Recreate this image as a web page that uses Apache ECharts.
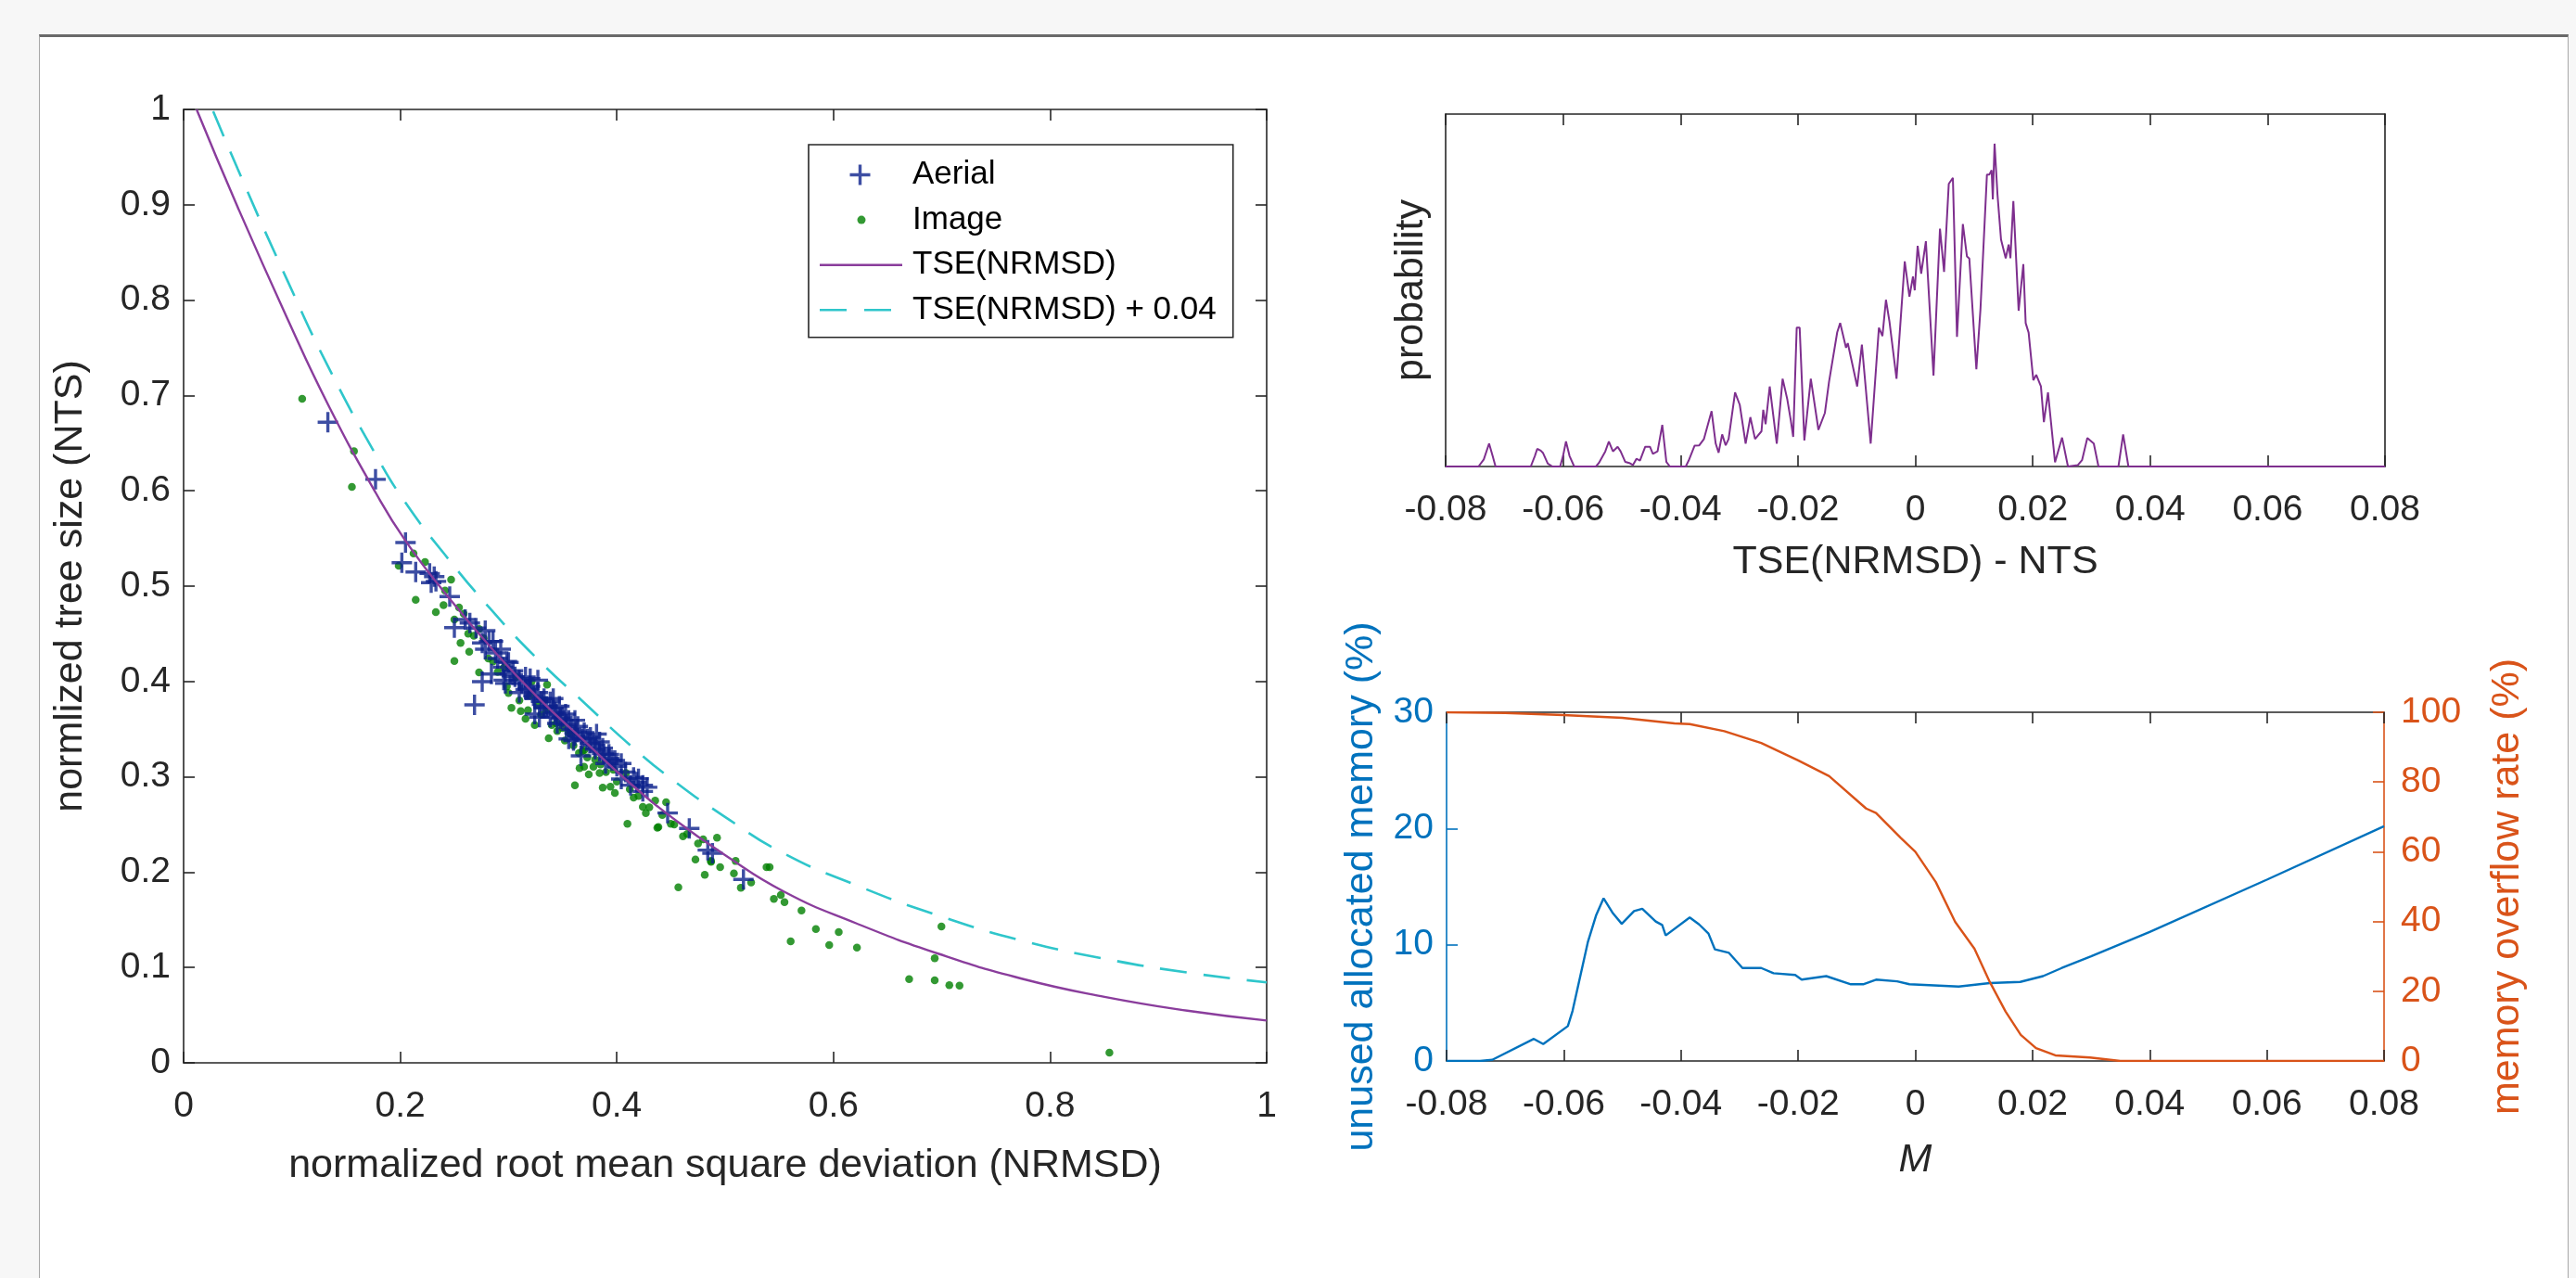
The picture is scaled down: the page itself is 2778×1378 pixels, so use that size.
<!DOCTYPE html>
<html><head><meta charset="utf-8">
<script src="https://cdn.jsdelivr.net/npm/echarts@6/dist/echarts.min.js"></script>
<style>
html,body{margin:0;padding:0;background:#f7f7f7;width:2778px;height:1378px;overflow:hidden;}
#panel{position:absolute;left:42px;top:37px;width:2726px;height:1400px;background:#fff;border-left:1px solid #a8a8a8;border-right:1px solid #a8a8a8;border-top:3px solid #6a6a6a;}
#chart{position:absolute;left:0;top:0;width:2778px;height:1378px;}
</style></head><body>
<div id="panel"></div><div id="chart"></div>
<script>
// ---------- Left panel: scatter of NTS vs NRMSD ----------
const aerialX = [0.1332,0.1772,0.2049,0.2015,0.2143,0.2272,0.2314,0.2286,0.233,0.2457,0.25,0.2643,0.2785,0.2757,0.2857,0.2928,0.2757,0.2686,0.2842,0.2956,0.2985,0.3042,0.3099,0.3157,0.3199,0.3271,0.3242,0.3328,0.3385,0.3413,0.3442,0.3499,0.3556,0.3385,0.364,0.3613,0.3556,0.3727,0.3784,0.3841,0.3927,0.3669,0.3982,0.3896,0.4041,0.4155,0.424,0.4127,0.4469,0.4669,0.484,0.4883,0.5169,0.3099,0.3271,0.3813,0.3841,0.4041,0.2785,0.29,0.3014,0.3157,0.3328,0.3413,0.347,0.3527,0.3613,0.3699,0.3756,0.387,0.3955,0.4184,0.424,0.3242,0.3285,
  0.26,0.27,0.282,0.288,0.295,0.30,0.306,0.312,0.318,0.323,0.33,0.335,0.343,0.348,0.353,0.358,0.363,0.368,0.375,0.38,0.388,0.393,0.40,0.408,0.42,0.428,0.32,0.345,0.36,0.297];
const aerialY = [0.672,0.612,0.5457,0.5246,0.5149,0.5133,0.51,0.5036,0.505,0.489,0.4565,0.4614,0.4533,0.4404,0.442,0.4339,0.3998,0.3755,0.4079,0.4014,0.4209,0.4112,0.4014,0.4047,0.3949,0.3884,0.3658,0.382,0.3787,0.3722,0.3658,0.3625,0.3593,0.3625,0.3528,0.3431,0.3398,0.3398,0.3333,0.3268,0.3236,0.322,0.3171,0.3139,0.2977,0.2993,0.2847,0.2912,0.262,0.2458,0.2231,0.2198,0.1923,0.3884,0.4014,0.3448,0.3366,0.3139,0.4339,0.4241,0.4079,0.3917,0.3722,0.382,0.374,0.3658,0.3593,0.3463,0.3414,0.33,0.3171,0.2944,0.2912,0.382,0.3625,
  0.465,0.456,0.442,0.43,0.415,0.42,0.405,0.398,0.392,0.385,0.379,0.374,0.368,0.361,0.355,0.35,0.347,0.34,0.335,0.329,0.324,0.319,0.311,0.305,0.298,0.289,0.403,0.356,0.338,0.398];
const imageX = [0.1095,0.1573,0.1554,0.1986,0.2123,0.2229,0.2143,0.2329,0.247,0.2414,0.2543,0.2586,0.25,0.2557,0.2637,0.2728,0.277,0.2728,0.2857,0.2985,0.3027,0.3113,0.3157,0.3242,0.3356,0.3328,0.3371,0.3399,0.3214,0.3499,0.3584,0.3656,0.3698,0.3613,0.3741,0.3841,0.387,0.3941,0.3982,0.4098,0.4084,0.4155,0.424,0.4268,0.4354,0.4384,0.4455,0.4498,0.4568,0.4611,0.4726,0.4797,0.4812,0.4869,0.4925,0.4954,0.5081,0.5097,0.524,0.5382,0.5411,0.4374,0.487,0.5145,0.545,0.5514,0.5548,0.5605,0.5705,0.5838,0.5961,0.6049,0.6217,0.6699,0.6935,0.6997,0.6935,0.707,0.7164,0.8548,0.2628,0.2813,0.2956,0.3071,0.3199,0.3271,0.3442,0.3556,0.3682,0.3727,0.3784,0.3968,
  0.268,0.29,0.30,0.31,0.318,0.33,0.345,0.352,0.36,0.365,0.38,0.39,0.40,0.412,0.42,0.43,0.442,0.453,0.465,0.475,0.24,0.25,0.335,0.37,0.385];
const imageY = [0.6964,0.6416,0.6041,0.5214,0.5344,0.5253,0.4857,0.4728,0.5068,0.4954,0.4776,0.4711,0.4215,0.4404,0.4312,0.455,0.4452,0.4095,0.4209,0.395,0.3723,0.369,0.3609,0.3544,0.3966,0.3804,0.3405,0.3544,0.3998,0.3512,0.3447,0.309,0.3106,0.2912,0.3025,0.3041,0.2886,0.2896,0.2831,0.2507,0.3041,0.2782,0.2685,0.262,0.275,0.2474,0.2733,0.2507,0.1841,0.2377,0.2133,0.2344,0.1972,0.2118,0.2361,0.2053,0.1988,0.2117,0.1891,0.2053,0.2053,0.2465,0.2108,0.1835,0.1719,0.1761,0.1686,0.1274,0.1598,0.1404,0.1235,0.1372,0.1209,0.0878,0.1096,0.143,0.0866,0.0814,0.081,0.0107,0.4501,0.4241,0.4144,0.4047,0.3852,0.3755,0.356,0.3463,0.3268,0.3203,0.3106,0.3074,
  0.448,0.41,0.388,0.38,0.37,0.365,0.348,0.338,0.333,0.325,0.318,0.305,0.295,0.287,0.28,0.268,0.26,0.25,0.24,0.23,0.48,0.465,0.37,0.328,0.313];
const tseX = [0.012,0.05,0.0955,0.1337,0.1776,0.2049,0.2414,0.2842,0.3271,0.3699,0.4127,0.4555,0.4983,0.5537,0.6209,0.6973,0.7738,0.8503,0.9267,1.0];
const tseY = [1.0,0.8974,0.7814,0.6897,0.5975,0.5475,0.4928,0.435,0.3831,0.3377,0.2928,0.2534,0.2192,0.18,0.1464,0.1143,0.0883,0.0692,0.0547,0.0444];
const TSE_OFFSET = 0.04; // "TSE(NRMSD) + 0.04"

// ---------- Top right: probability of TSE(NRMSD) - NTS ----------
const histX = [-0.08,-0.0744,-0.0735,-0.0726,-0.072,-0.0715,-0.0655,-0.0648,-0.0644,-0.0638,-0.0634,-0.0626,-0.0618,-0.0605,-0.06,-0.0595,-0.0589,-0.0581,-0.0544,-0.0539,-0.0528,-0.0522,-0.0515,-0.0507,-0.0502,-0.0494,-0.0486,-0.0481,-0.0475,-0.0469,-0.046,-0.0452,-0.0447,-0.0439,-0.0431,-0.0424,-0.0418,-0.0391,-0.0386,-0.0376,-0.0368,-0.036,-0.0347,-0.034,-0.0335,-0.0329,-0.0323,-0.0318,-0.0307,-0.0299,-0.0289,-0.0281,-0.0273,-0.0262,-0.0259,-0.0255,-0.0248,-0.0236,-0.0226,-0.0218,-0.0212,-0.0208,-0.0202,-0.0197,-0.0189,-0.0178,-0.0165,-0.0154,-0.0147,-0.0133,-0.0128,-0.0118,-0.0115,-0.0099,-0.0091,-0.0076,-0.0062,-0.0056,-0.005,-0.0044,-0.0032,-0.0018,-0.001,-0.0004,-0.0001,0.0004,0.001,0.0018,0.0031,0.0042,0.0049,0.0057,0.0064,0.0071,0.0081,0.0088,0.0092,0.0104,0.0111,0.0122,0.0126,0.013,0.0132,0.0135,0.014,0.0146,0.0154,0.0159,0.0162,0.0167,0.0176,0.0184,0.0188,0.0193,0.0201,0.0206,0.0214,0.0219,0.0226,0.0238,0.025,0.026,0.0277,0.0284,0.0293,0.0304,0.0312,0.0346,0.0354,0.0363,0.08];
const histY = [0,0,0.02,0.065,0.03,0,0,0.03,0.05,0.045,0.038,0.008,0,0,0.03,0.071,0.03,0,0,0.01,0.043,0.071,0.043,0.056,0.043,0.013,0.009,0.004,0.022,0.017,0.056,0.056,0.036,0.043,0.118,0.013,0,0,0.017,0.059,0.06,0.078,0.157,0.065,0.039,0.091,0.06,0.078,0.21,0.175,0.065,0.14,0.078,0.1,0.161,0.12,0.227,0.065,0.249,0.19,0.13,0.084,0.394,0.394,0.074,0.249,0.104,0.152,0.24,0.381,0.407,0.337,0.35,0.227,0.346,0.065,0.394,0.37,0.473,0.411,0.249,0.582,0.482,0.539,0.5,0.626,0.547,0.639,0.258,0.675,0.552,0.802,0.819,0.368,0.688,0.596,0.59,0.276,0.447,0.828,0.828,0.841,0.758,0.916,0.771,0.644,0.591,0.63,0.591,0.753,0.442,0.574,0.407,0.38,0.245,0.26,0.227,0.126,0.21,0.012,0.082,0,0.004,0.018,0.081,0.065,0,0,0.091,0,0];

// ---------- Bottom right: memory vs M ----------
const unusedM = [-0.08,-0.0743,-0.0722,-0.0651,-0.0635,-0.0593,-0.0585,-0.0559,-0.0545,-0.0532,-0.0516,-0.0501,-0.048,-0.0466,-0.0443,-0.0432,-0.0426,-0.0385,-0.0369,-0.0353,-0.0342,-0.0318,-0.0295,-0.0263,-0.0242,-0.0205,-0.0194,-0.0152,-0.011,-0.0089,-0.0067,-0.0031,-0.001,0.0074,0.0127,0.0179,0.0218,0.025,0.03,0.04,0.06,0.08];
const unusedPct = [0,0,0.1,1.9,1.45,3.0,4.3,10.2,12.5,14.0,12.7,11.8,12.9,13.1,12.0,11.7,10.8,12.35,11.75,10.96,9.6,9.3,8.0,8.0,7.55,7.4,7.0,7.3,6.6,6.6,7.0,6.85,6.6,6.4,6.7,6.8,7.3,8.0,9.0,11.1,15.6,20.2];
const overflowM = [-0.08,-0.07,-0.0601,-0.05,-0.0411,-0.0385,-0.0326,-0.0263,-0.02,-0.0147,-0.0084,-0.0067,-0.0025,0,0.0035,0.0068,0.0101,0.0127,0.0154,0.018,0.0206,0.0239,0.0298,0.035,0.08];
const overflowPct = [100,99.8,99.2,98.4,96.8,96.6,94.6,91.2,86.2,81.7,72.4,71.1,64.0,60.0,51.3,39.9,32.2,22.7,14.2,7.5,3.7,1.6,1.0,0,0];

// ---------- styling ----------
const FONT = '"Liberation Sans", Arial, Helvetica, sans-serif';
const AXC = '#262626';
const C_AERIAL = '#0c228c', C_IMAGE = '#008000', C_TSE = '#8a3d9c', C_TSE2 = '#2fc6cb';
const C_HIST = '#7e2f8e', C_BLUE = '#0072bd', C_ORANGE = '#d95319';
const TICK = 39, NAME = 43;

const pairs = (xs, ys) => xs.map((x, i) => [x, ys[i]]);
const tseData = pairs(tseX, tseY);
const tsePlusData = tseX.map((x, i) => [x, tseY[i] + TSE_OFFSET]);

function ax(grid, pos, min, max, interval, o) {
  const color = (o && o.color) || AXC;
  const base = {
    gridIndex: grid, type: 'value', position: pos, min: min, max: max, interval: interval,
    axisLine: { show: true, onZero: false, lineStyle: { color: color, width: 1.6 } },
    axisTick: { show: true, inside: true, length: 12, lineStyle: { color: color, width: 1.6 } },
    axisLabel: { show: false, fontSize: TICK, color: color, fontFamily: FONT, margin: 28 },
    splitLine: { show: false }
  };
  if (o) {
    if (o.labels) base.axisLabel.show = true;
    if (o.margin !== undefined) base.axisLabel.margin = o.margin;
    if (o.noTicks) base.axisTick.show = false;
    if (o.name) {
      base.name = o.name; base.nameLocation = 'middle'; base.nameGap = o.nameGap;
      base.nameTextStyle = { fontSize: NAME, color: color, fontFamily: FONT, fontStyle: o.italic ? 'italic' : 'normal' };
      if (o.rotate !== undefined) base.nameRotate = o.rotate;
    }
  }
  return base;
}

const G0 = { left: 198, top: 118, width: 1168, height: 1028 };
const G1 = { left: 1559, top: 123, width: 1013, height: 380 };
const G2 = { left: 1560, top: 768, width: 1011, height: 376 };

const plusIcon = 'path://M0 0 M95 22 M32.5 9.3 H54.5 V12.7 H32.5 Z M41.8 0 H45.2 V22 H41.8 Z';
const dotIcon = 'path://M0 0 M95 22 M40.5 11 A4.5 4.5 0 1 1 49.5 11 A4.5 4.5 0 1 1 40.5 11 Z';
const solidIcon = 'path://M0 0 M95 22 M0 9.7 H89 V12.3 H0 Z';
const dashIcon = 'path://M0 0 M95 22 M0 9.7 H29 V12.3 H0 Z M48 9.7 H77 V12.3 H48 Z';

const option = {
  animation: false,
  backgroundColor: 'transparent',
  textStyle: { fontFamily: FONT },
  grid: [
    Object.assign({ containLabel: false }, G0),
    Object.assign({ containLabel: false }, G1),
    Object.assign({ containLabel: false }, G2)
  ],
  legend: {
    orient: 'vertical', left: 872, top: 156,
    padding: [15, 18, 12, 12], itemGap: 13.6, itemWidth: 95, itemHeight: 22,
    backgroundColor: '#fff', borderColor: AXC, borderWidth: 1.6, borderRadius: 0,
    textStyle: { fontSize: 35, color: '#000', fontFamily: FONT },
    selectedMode: false,
    data: [
      { name: 'Aerial', icon: plusIcon },
      { name: 'Image', icon: dotIcon },
      { name: 'TSE(NRMSD)', icon: solidIcon },
      { name: 'TSE(NRMSD) + 0.04', icon: dashIcon }
    ]
  },
  xAxis: [
    ax(0, 'bottom', 0, 1, 0.2, { labels: true, name: 'normalized root mean square deviation (NRMSD)', nameGap: 90 }),
    ax(0, 'top', 0, 1, 0.2),
    ax(1, 'bottom', -0.08, 0.08, 0.02, { labels: true, name: 'TSE(NRMSD) - NTS', nameGap: 82 }),
    ax(1, 'top', -0.08, 0.08, 0.02),
    ax(2, 'bottom', -0.08, 0.08, 0.02, { labels: true, name: 'M', nameGap: 86, italic: true }),
    ax(2, 'top', -0.08, 0.08, 0.02)
  ],
  yAxis: [
    ax(0, 'left', 0, 1, 0.1, { labels: true, margin: 14, name: 'normlized tree size (NTS)', nameGap: 100, rotate: 90 }),
    ax(0, 'right', 0, 1, 0.1),
    ax(1, 'left', 0, 1, 0.5, { noTicks: true, name: 'probability', nameGap: 15, rotate: 90 }),
    ax(1, 'right', 0, 1, 0.5, { noTicks: true }),
    ax(2, 'left', 0, 30, 10, { labels: true, margin: 14, color: C_BLUE, name: 'unused allocated memory (%)', nameGap: 70, rotate: 90 }),
    ax(2, 'right', 0, 100, 20, { labels: true, margin: 18, color: C_ORANGE, name: 'memory overflow rate (%)', nameGap: 112, rotate: 90 })
  ],
  series: [
    { name: 'Image', type: 'scatter', xAxisIndex: 0, yAxisIndex: 0, data: pairs(imageX, imageY),
      symbol: 'circle', symbolSize: 8.5, itemStyle: { color: C_IMAGE }, z: 2 },
    { name: 'Aerial', type: 'scatter', xAxisIndex: 0, yAxisIndex: 0, data: pairs(aerialX, aerialY),
      symbol: 'path://M0 9.3 H22 V12.7 H0 Z M9.3 0 H12.7 V22 H9.3 Z', symbolSize: 22,
      itemStyle: { color: C_AERIAL }, z: 3 },
    { name: 'TSE(NRMSD)', type: 'line', xAxisIndex: 0, yAxisIndex: 0, data: tseData, smooth: 0.5,
      showSymbol: false, symbol: 'none', color: C_TSE, itemStyle: { color: C_TSE },
      lineStyle: { color: C_TSE, width: 2.4 }, z: 4 },
    { name: 'TSE(NRMSD) + 0.04', type: 'line', xAxisIndex: 0, yAxisIndex: 0, data: tsePlusData, smooth: 0.5,
      showSymbol: false, symbol: 'none', color: C_TSE2, itemStyle: { color: C_TSE2 },
      lineStyle: { color: C_TSE2, width: 2.6, type: [29, 18] }, z: 4 },
    { name: 'probability', type: 'line', xAxisIndex: 2, yAxisIndex: 2, data: pairs(histX, histY),
      showSymbol: false, symbol: 'none', lineStyle: { color: C_HIST, width: 2.0 }, z: 4 },
    { name: 'unused allocated memory', type: 'line', xAxisIndex: 4, yAxisIndex: 4, data: pairs(unusedM, unusedPct),
      showSymbol: false, symbol: 'none', lineStyle: { color: C_BLUE, width: 2.4 }, z: 4 },
    { name: 'memory overflow rate', type: 'line', xAxisIndex: 4, yAxisIndex: 5, data: pairs(overflowM, overflowPct),
      showSymbol: false, symbol: 'none', lineStyle: { color: C_ORANGE, width: 2.4 }, z: 4 }
  ]
};

const chart = echarts.init(document.getElementById('chart'), null, { renderer: 'canvas', width: 2778, height: 1378 });
chart.setOption(option);
</script></body></html>
